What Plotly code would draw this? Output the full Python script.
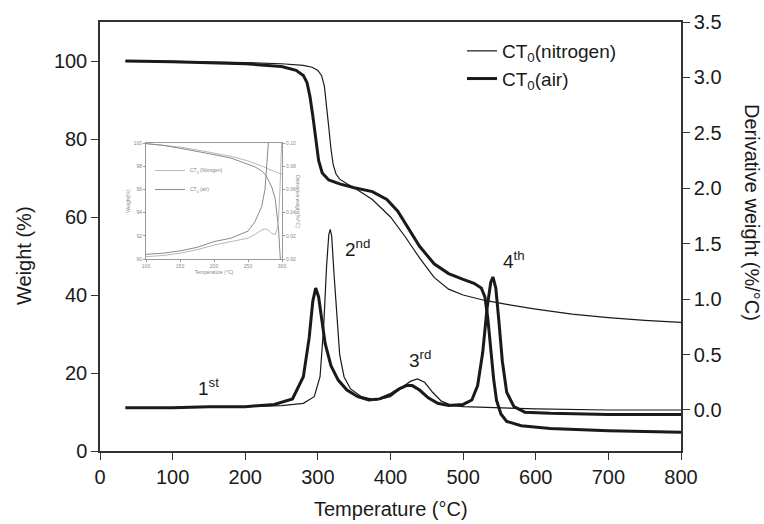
import plotly.graph_objects as go

# ---------------- main data ----------------
# TGA, nitrogen (thin)
tga_n_T = [35, 100, 200, 250, 280, 292, 300, 305, 309, 312, 315, 318, 321, 325, 330, 340, 350, 375, 400, 420, 440, 460, 480, 500, 530, 560, 600, 650, 700, 750, 800]
tga_n_W = [99.9, 99.9, 99.6, 99.3, 98.9, 98.4, 97.6, 96.3, 93.5, 89, 83, 77.5, 73.5, 71, 69.7, 68.5, 67.5, 64.5, 60, 55, 49.5, 44.5, 41.5, 40, 38.6, 37.6, 36.4, 35.1, 34.2, 33.5, 33]
# TGA, air (thick)
tga_a_T = [35, 100, 200, 250, 270, 280, 285, 289, 293, 297, 301, 306, 315, 330, 350, 375, 395, 410, 425, 440, 460, 480, 500, 515, 525, 530, 534, 538, 542, 546, 552, 560, 580, 620, 700, 800]
tga_a_W = [100, 99.8, 99.3, 98.6, 97.6, 96.3, 94.5, 91, 86, 79.5, 74.5, 71.3, 69.5, 68.5, 67.5, 66.5, 64.5, 61.5, 57, 52.5, 48, 45.5, 44, 43, 41.8, 39.5, 34, 26, 18.5, 13, 9.5, 7.6, 6.5, 5.8, 5.2, 4.8]
# DTG, nitrogen (thin)
dtg_n_T = [35, 100, 200, 250, 280, 295, 303, 308, 312, 315, 317, 319, 322, 326, 330, 336, 345, 360, 380, 400, 415, 428, 437, 447, 458, 470, 485, 500, 550, 600, 700, 800]
dtg_n_D = [0.02, 0.02, 0.03, 0.04, 0.06, 0.12, 0.3, 0.75, 1.3, 1.58, 1.63, 1.57, 1.25, 0.82, 0.5, 0.3, 0.19, 0.12, 0.09, 0.12, 0.2, 0.26, 0.28, 0.25, 0.16, 0.08, 0.04, 0.03, 0.02, 0.01, 0.0, 0.0]
# DTG, air (thick)
dtg_a_T = [35, 100, 150, 200, 240, 265, 280, 288, 293, 297, 301, 305, 310, 318, 328, 340, 355, 370, 385, 400, 412, 422, 430, 440, 452, 465, 480, 500, 512, 520, 527, 533, 538, 541, 545, 549, 554, 560, 570, 585, 620, 700, 800]
dtg_a_D = [0.02, 0.02, 0.03, 0.03, 0.05, 0.1, 0.3, 0.65, 0.98, 1.1, 1.02, 0.83, 0.6, 0.4, 0.27, 0.18, 0.12, 0.09, 0.1, 0.14, 0.19, 0.22, 0.22, 0.18, 0.11, 0.06, 0.04, 0.05, 0.09, 0.22, 0.52, 0.92, 1.15, 1.2, 1.1, 0.82, 0.44, 0.16, 0.03, -0.02, -0.03, -0.04, -0.04]

x_ticks = [0, 100, 200, 300, 400, 500, 600, 700, 800]
yl_ticks = [0, 20, 40, 60, 80, 100]
yr_ticks = [0.0, 0.5, 1.0, 1.5, 2.0, 2.5, 3.0, 3.5]

peak_labels = ["1<sup>st</sup>", "2<sup>nd</sup>", "3<sup>rd</sup>", "4<sup>th</sup>"]
peak_label_T = [150, 354, 440, 570]
peak_label_W = [16.5, 52, 23.5, 49]

# ---------------- inset data ----------------
ins_T = [100, 125, 150, 175, 200, 225, 250, 260, 270, 275, 280, 285, 290, 293, 295, 297, 300]
ins_tga_n = [99.95, 99.82, 99.65, 99.4, 99.15, 98.85, 98.45, 98.25, 98.0, 97.9, 97.75, 97.65, 97.5, 97.45, 97.4, 97.35, 97.3]
ins_tga_a = [99.95, 99.8, 99.55, 99.3, 99.0, 98.7, 98.2, 97.95, 97.6, 97.3, 96.8, 96.2, 95.2, 93.8, 92.5, 90.5, 88.0]
ins_dtg_n = [0.002, 0.003, 0.005, 0.008, 0.012, 0.015, 0.018, 0.021, 0.025, 0.026, 0.025, 0.022, 0.021, 0.026, 0.036, 0.06, 0.11]
ins_dtg_a = [0.004, 0.005, 0.007, 0.01, 0.015, 0.018, 0.024, 0.032, 0.045, 0.06, 0.1, 0.14, 0.2, 0.25, 0.3, 0.35, 0.4]
ins_x_ticks = [100, 150, 200, 250, 300]
ins_yl_ticks = [90, 92, 94, 96, 98, 100]
ins_yr_ticks = [0.0, 0.02, 0.04, 0.06, 0.08, 0.10]

FONT = "Liberation Sans, Arial, sans-serif"
INK = "#1a1a1a"
AX = "#333333"
LIGHT = "#b8b8b8"
DARK = "#8a8a8a"

fig = go.Figure()

# main traces
fig.add_trace(go.Scatter(x=tga_n_T, y=tga_n_W, mode="lines", name="CT<sub>0</sub>(nitrogen)",
                         line=dict(color=INK, width=1.2), xaxis="x", yaxis="y"))
fig.add_trace(go.Scatter(x=tga_a_T, y=tga_a_W, mode="lines", name="CT<sub>0</sub>(air)",
                         line=dict(color=INK, width=3), xaxis="x", yaxis="y"))
fig.add_trace(go.Scatter(x=dtg_n_T, y=dtg_n_D, mode="lines", showlegend=False,
                         line=dict(color=INK, width=1.2), xaxis="x", yaxis="y2"))
fig.add_trace(go.Scatter(x=dtg_a_T, y=dtg_a_D, mode="lines", showlegend=False,
                         line=dict(color=INK, width=3), xaxis="x", yaxis="y2"))

# inset traces
fig.add_trace(go.Scatter(x=ins_T, y=ins_tga_n, mode="lines", name="CT<sub>0</sub> (Nitrogen)",
                         line=dict(color=LIGHT, width=1), xaxis="x2", yaxis="y3", legend="legend2"))
fig.add_trace(go.Scatter(x=ins_T, y=ins_tga_a, mode="lines", name="CT<sub>0</sub> (air)",
                         line=dict(color=DARK, width=1), xaxis="x2", yaxis="y3", legend="legend2"))
fig.add_trace(go.Scatter(x=ins_T, y=ins_dtg_n, mode="lines", showlegend=False,
                         line=dict(color=LIGHT, width=1), xaxis="x2", yaxis="y4"))
fig.add_trace(go.Scatter(x=ins_T, y=ins_dtg_a, mode="lines", showlegend=False,
                         line=dict(color=DARK, width=1), xaxis="x2", yaxis="y4"))

L, R, T, B = 100, 83, 22, 73
W, H = 764, 524
pw, ph = W - L - R, H - T - B

def px(xp):
    return (xp - L) / pw

def py(yp):
    return (H - B - yp) / ph

tick_font = dict(family=FONT, size=20, color=INK)
small = dict(family=FONT, size=5, color="#888")

fig.update_layout(
    width=W, height=H,
    margin=dict(l=L, r=R, t=T, b=B, pad=0),
    paper_bgcolor="white", plot_bgcolor="white",
    font=dict(family=FONT, color=INK),
    xaxis=dict(domain=[0, 1], range=[0, 800], tickvals=x_ticks, ticks="outside", ticklen=7,
               tickwidth=1.3, tickcolor=AX, showline=True, linecolor=AX, linewidth=1.5,
               mirror=True, showgrid=False, zeroline=False, tickfont=tick_font),
    yaxis=dict(range=[0, 110], tickvals=yl_ticks, ticks="outside", ticklen=7, tickwidth=1.3,
               tickcolor=AX, showline=True, linecolor=AX, linewidth=1.5, showgrid=False,
               zeroline=False, tickfont=tick_font),
    yaxis2=dict(overlaying="y", side="right", range=[-0.37, 3.5001], tickvals=yr_ticks,
                tickformat=".1f", ticks="outside", ticklen=7, tickwidth=1.3, tickcolor=AX,
                showline=True, linecolor=AX, linewidth=1.5, showgrid=False, zeroline=False,
                tickfont=tick_font),
    xaxis2=dict(domain=[px(146), px(282)], anchor="y3", range=[100, 300], tickvals=ins_x_ticks,
                ticks="outside", ticklen=2, tickcolor="#999", showline=True, linecolor="#999",
                linewidth=1, mirror=True, showgrid=False, zeroline=False, tickfont=small,
                title=dict(text="Temperature (°C)", font=dict(family=FONT, size=5, color="#888"),
                           standoff=2)),
    yaxis3=dict(domain=[py(259), py(143)], anchor="x2", range=[90, 100], tickvals=ins_yl_ticks,
                ticks="outside", ticklen=2, tickcolor="#999", showline=True, linecolor="#999",
                linewidth=1, showgrid=False, zeroline=False, tickfont=small,
                title=dict(text="Weight(%)", font=dict(family=FONT, size=5, color="#888"),
                           standoff=2)),
    yaxis4=dict(overlaying="y3", side="right", anchor="x2", range=[0, 0.10],
                tickvals=ins_yr_ticks, tickformat=".2f", ticks="outside", ticklen=2,
                tickcolor="#999", showline=True, linecolor="#999", linewidth=1, showgrid=False,
                zeroline=False, tickfont=small),
    legend=dict(x=px(462), y=py(32), xanchor="left", yanchor="top", bgcolor="rgba(0,0,0,0)",
                font=dict(family=FONT, size=19, color=INK), tracegroupgap=0),
    legend2=dict(x=px(150), y=py(156), xanchor="left", yanchor="top", bgcolor="rgba(0,0,0,0)",
                 font=dict(family=FONT, size=5, color="#888"), itemwidth=30),
    showlegend=True,
)

annotations = [
    dict(text="Weight (%)", x=px(24), y=py(256), xref="paper", yref="paper", showarrow=False,
         xanchor="center", yanchor="middle", textangle=-90,
         font=dict(family=FONT, size=20, color=INK)),
    dict(text="Derivative weight (%/°C)", x=px(752), y=py(212), xref="paper", yref="paper",
         xanchor="center", yanchor="middle", showarrow=False, textangle=90,
         font=dict(family=FONT, size=20, color=INK)),
    dict(text="Temperature (°C)", x=0.5, y=py(509), xref="paper", yref="paper", showarrow=False,
         xanchor="center", yanchor="middle", font=dict(family=FONT, size=20, color=INK)),
    dict(text="Derivative weight(%/°C)", x=px(298), y=py(201), xref="paper", yref="paper",
         xanchor="center", yanchor="middle", showarrow=False, textangle=90,
         font=dict(family=FONT, size=5, color="#888")),
]
for lab, t, w in zip(peak_labels, peak_label_T, peak_label_W):
    annotations.append(dict(text=lab, x=t, y=w, xref="x", yref="y", showarrow=False,
                            xanchor="center", yanchor="middle",
                            font=dict(family=FONT, size=19, color=INK)))
fig.update_layout(annotations=annotations)

fig.write_html("out.html")
